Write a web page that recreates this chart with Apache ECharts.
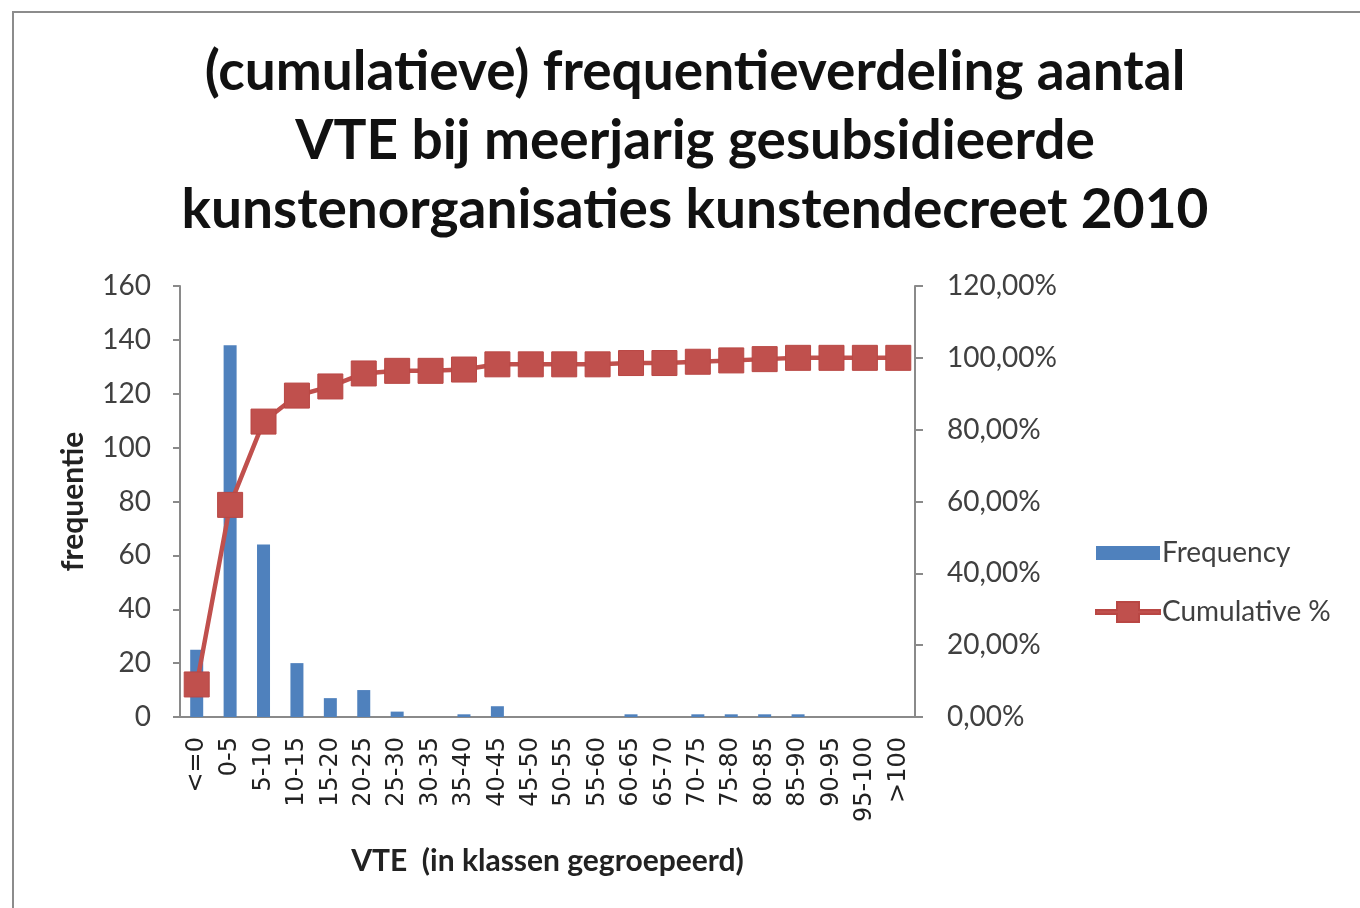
<!DOCTYPE html>
<html>
<head>
<meta charset="utf-8">
<script src="https://cdn.jsdelivr.net/npm/echarts@6/dist/echarts.min.js"></script>
<style>
	html, body { margin: 0; padding: 0; background: #fff; }
	#frame { position: absolute; left: 12px; top: 11px; width: 1400px; height: 950px;
		border-left: 2px solid #8c8c8c; border-top: 2px solid #8c8c8c; }
	#main { position: absolute; left: 0; top: 0; width: 1360px; height: 908px; }
</style>
</head>
<body>
<div id="frame"></div>
<div id="main"></div>
<script>
// klassen (VTE)
var categories = ['<=0','0-5','5-10','10-15','15-20','20-25','25-30','30-35','35-40','40-45',
	'45-50','50-55','55-60','60-65','65-70','70-75','75-80','80-85','85-90','90-95','95-100','>100'];
// frequentie per klasse
var frequency = [25, 138, 64, 20, 7, 10, 2, 0, 1, 4, 0, 0, 0, 1, 0, 1, 1, 1, 1, 0, 0, 0];
// cumulatief percentage
var cumulative = [9.06, 59.06, 82.25, 89.49, 92.03, 95.65, 96.38, 96.38, 96.74, 98.19,
	98.19, 98.19, 98.19, 98.55, 98.55, 98.91, 99.28, 99.64, 100, 100, 100, 100];
var leftTicks = [0, 160, 20];
var rightTicks = [0, 120, 20];

var myChart = echarts.init(document.getElementById('main'));

var axisGray = '#8a8a8a';
var labelColor = '#404040';

var option = {
	animation: false,
	title: {
		text: '(cumulatieve) frequentieverdeling aantal\nVTE bij meerjarig gesubsidieerde\nkunstenorganisaties kunstendecreet 2010',
		left: 690,
		top: 33,
		textAlign: 'center',
		textStyle: {
			fontFamily: 'Lato',
			fontWeight: 'bold',
			fontSize: 55,
			lineHeight: 69,
			color: '#111'
		}
	},
	legend: {
		orient: 'vertical',
		left: 1090,
		top: 534,
		itemWidth: 64,
		itemHeight: 20,
		itemGap: 31,
		textStyle: { fontFamily: 'Lato', fontSize: 28, color: labelColor, padding: [0, 0, 0, -3] },
		data: [
			{ name: 'Frequency', icon: 'path://M0,3 H64 V17 H0 Z' },
			{ name: 'Cumulative %', icon: 'path://M0,8 H21 V0 H43 V8 H64 V12 H43 V20 H21 V12 H0 Z' }
		]
	},
	grid: { left: 180, right: 445, top: 286, bottom: 191 },
	xAxis: {
		type: 'category',
		data: categories,
		name: 'VTE  (in klassen gegroepeerd)',
		nameLocation: 'middle',
		nameGap: 129,
		nameTextStyle: { fontFamily: 'Lato', fontWeight: 'bold', fontSize: 30, color: '#222' },
		axisLine: { lineStyle: { color: axisGray, width: 2 } },
		axisTick: { alignWithLabel: false, length: 8, lineStyle: { color: axisGray, width: 2 } },
		axisLabel: {
			rotate: 90,
			interval: 0,
			margin: 20,
			fontFamily: 'DejaVu Sans',
			fontSize: 24,
			color: '#222'
		}
	},
	yAxis: [{
		type: 'value',
		min: leftTicks[0],
		max: leftTicks[1],
		interval: leftTicks[2],
		name: 'frequentie',
		nameLocation: 'middle',
		nameGap: 92,
		nameTextStyle: { fontFamily: 'Lato', fontWeight: 'bold', fontSize: 30, color: '#222' },
		splitLine: { show: false },
		axisLine: { show: true, lineStyle: { color: axisGray, width: 2 } },
		axisTick: { show: true, length: 7, lineStyle: { color: axisGray, width: 2 } },
		axisLabel: { margin: 29, fontFamily: 'Lato', fontSize: 28, color: labelColor }
	}, {
		type: 'value',
		min: rightTicks[0],
		max: rightTicks[1],
		interval: rightTicks[2],
		splitLine: { show: false },
		axisLine: { show: true, lineStyle: { color: axisGray, width: 2 } },
		axisTick: { show: true, length: 8, lineStyle: { color: axisGray, width: 2 } },
		axisLabel: {
			margin: 32,
			fontFamily: 'Lato',
			fontSize: 28,
			color: labelColor,
			formatter: function (v) { return v.toFixed(2).replace('.', ',') + '%'; }
		}
	}],
	series: [{
		name: 'Frequency',
		type: 'bar',
		data: frequency,
		barWidth: 13,
		itemStyle: { color: '#4F81BD' }
	}, {
		name: 'Cumulative %',
		type: 'line',
		yAxisIndex: 1,
		data: cumulative,
		symbol: 'rect',
		symbolSize: 25,
		lineStyle: { color: '#C0504D', width: 4.5 },
		itemStyle: { color: '#C0504D', borderColor: '#B94744', borderWidth: 1 }
	}]
};

myChart.setOption(option);
</script>
</body>
</html>
